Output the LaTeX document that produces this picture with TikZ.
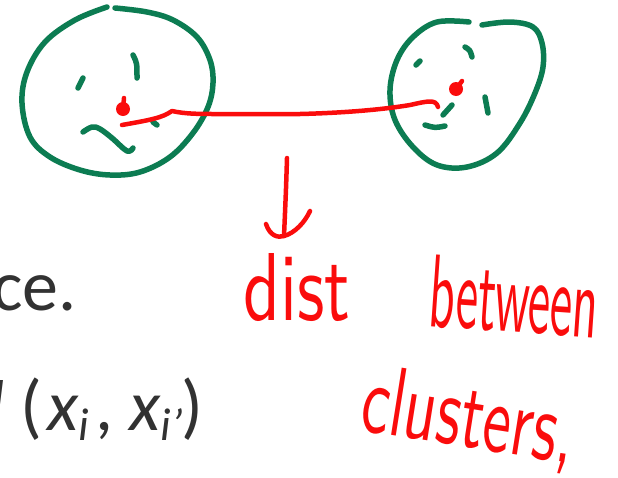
\documentclass[tikz,border=0pt]{standalone}
\usepackage{fontspec}
\newfontfamily\calfont{Carlito}
\definecolor{pengreen}{RGB}{12,124,82}
\definecolor{penred}{RGB}{250,12,12}
\definecolor{slidetext}{RGB}{50,50,50}
\tikzset{
  greenpen/.style={draw=pengreen, line width=5.5pt, line cap=round, line join=round},
  redpen/.style={draw=penred, line width=4.5pt, line cap=round, line join=round},
  reddot/.style={circle, fill=penred, inner sep=0pt, minimum size=14pt},
  slide/.style={font=\calfont\fontsize{72}{80}\selectfont, inner sep=0pt, text=slidetext},
  hand/.style={text=penred, inner sep=0pt, font=\sffamily},
}
\begin{document}
\begin{tikzpicture}[x=1pt, y=-1pt]
\useasboundingbox (0,0) rectangle (618,477);
\clip (0,0) rectangle (618,477);
% left cluster
\draw[greenpen] plot[smooth, tension=0.6] coordinates {(115,8) (147,12) (173,20) (197,37) (210,60) (213,83) (208,107) (193,133) (170,157) (140,172) (110,175) (80,170) (50,157) (30,137) (22,103) (27,72) (45,42) (75,20) (107,7)};
\draw[greenpen] (78,88) -- (83,78);
\draw[greenpen] (133,55) .. controls (137,63) .. (137,78);
\draw[greenpen] plot[smooth, tension=0.6] coordinates {(83,132) (92,127) (100,129) (112,138) (127,151) (133,148)};
\draw[greenpen] (153,122) -- (157,125);
% right cluster
\draw[greenpen] plot[smooth, tension=0.6] coordinates {(482,25) (510,22) (533,27) (542,43) (543,67) (535,93) (520,123) (497,153) (467,167) (437,165) (413,147) (395,120) (390,90) (397,60) (413,37) (437,22) (469,22)};
\draw[greenpen] (416,65) -- (420,61);
\draw[greenpen] (465,47) .. controls (470,50) .. (472,57);
\draw[greenpen] (485,97) .. controls (487,105) .. (488,113);
\draw[greenpen] (443,115) -- (452,105);
\draw[greenpen] (425,125) .. controls (435,128) .. (445,126);
% centroids
\node[reddot] (m1) at (123,109) {};
\node[reddot] (m2) at (456,89) {};
\draw[redpen] (m1.center) -- (124,98);
\draw[redpen] (m2.center) -- (462,81);
% distance line
\coordinate (s) at (122,125);
\coordinate (e) at (438,107);
\draw[redpen] (s) .. controls (150,120) and (162,118) .. (172,111)
  .. controls (185,114) and (200,114) .. (215,114)
  -- (300,114) .. controls (340,113) and (380,110) .. (410,105)
  .. controls (428,101) and (436,99) .. (e);
% arrow
\coordinate (a0) at (287,158);
\coordinate (a1) at (284,236);
\draw[redpen] (a0) .. controls (286,190) .. (a1);
\draw[redpen] (266,224) .. controls (270,236) and (278,238) .. (a1) .. controls (295,233) and (305,222) .. (310,211);
% handwritten text
\node[hand, anchor=base west] (dist) at (243,320) {\resizebox{107pt}{67pt}{dist}};
\node[hand, anchor=base west, rotate=-4] (betw) at (427,326) {\resizebox{170pt}{72pt}{between}};
\node[hand, anchor=base west, rotate=-9] (clus) at (358,430) {\resizebox{215pt}{68pt}{clusters,}};
% slide text
\node[slide, anchor=base west] (ce) at (-8,310) {\llap{an}ce.};
\node[slide, anchor=base west] (pair) at (20,430) {\llap{\itshape d\hspace{16pt}}(\hspace{5pt}\textit{x}\raisebox{-10pt}{\fontsize{46}{50}\selectfont\itshape i}\hspace{6pt},\hspace{16pt}\textit{x}\raisebox{-10pt}{\fontsize{46}{50}\selectfont\itshape i’}\hspace{-2pt})};
\end{tikzpicture}
\end{document}
